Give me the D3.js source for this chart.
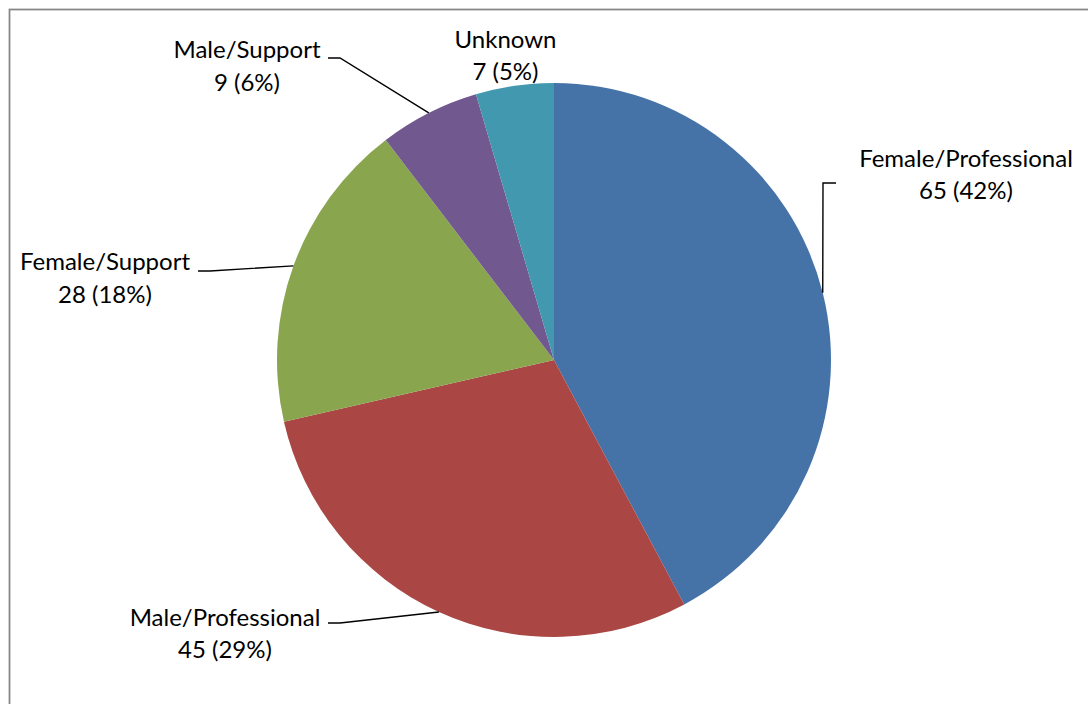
<!DOCTYPE html>
<html>
<head>
<meta charset="utf-8">
<script src="https://cdn.jsdelivr.net/npm/d3@7"></script>
<style>
  body { margin: 0; background: #fff; }
  svg { display: block; font-family: Lato, "Open Sans", sans-serif; }
</style>
</head>
<body>
<svg id="chart"></svg>
<script>
// chart data
const categories = ["Female/Professional", "Male/Professional", "Female/Support", "Male/Support", "Unknown"];
const counts = [65, 45, 28, 9, 7];
const percents = [42, 29, 18, 6, 5];
const colors = ["#4572A7", "#AA4643", "#89A54E", "#71588F", "#4198AF"];

// label layout: text centre x, first baseline y, line anchor near the text (null = no leader)
const labelLayout = [
    { x: 966, y: 166.5, anchor: [836, 183], knee: [823, 183] },
    { x: 225, y: 625.5, anchor: [328, 623], knee: [340, 623] },
    { x: 105, y: 270, anchor: [198, 271], knee: [210, 271] },
    { x: 247, y: 58, anchor: [328, 58], knee: [340, 58] },
    { x: 505.5, y: 47.5, anchor: null, knee: null },
];

const width = 1088, height = 704;
const cx = 554, cy = 360, radius = 277;

const svg = d3.select("#chart")
    .attr("width", width)
    .attr("height", height);

// chart frame (runs off the right and bottom edges)
svg.append("rect")
    .attr("x", 9.5).attr("y", 9.5)
    .attr("width", width + 20).attr("height", height + 20)
    .attr("fill", "none")
    .attr("stroke", "#868686")
    .attr("stroke-width", 1.75);

const data = categories.map((c, i) => ({ name: c, value: counts[i], pct: percents[i], color: colors[i], layout: labelLayout[i] }));

const pie = d3.pie().sort(null).value(d => d.value);
const arc = d3.arc().innerRadius(0).outerRadius(radius);
const arcs = pie(data);

const g = svg.append("g").attr("transform", `translate(${cx},${cy})`);

g.selectAll("path.slice")
    .data(arcs)
    .join("path")
    .attr("class", "slice")
    .attr("d", arc)
    .attr("fill", d => d.data.color);

// leader lines from slice midpoint on the rim to the label
const line = d3.line();
svg.selectAll("path.leader")
    .data(arcs.filter(d => d.data.layout.anchor))
    .join("path")
    .attr("class", "leader")
    .attr("fill", "none")
    .attr("stroke", "#000")
    .attr("stroke-width", 1.4)
    .attr("d", d => {
        const mid = (d.startAngle + d.endAngle) / 2;
        const p = [cx + radius * Math.sin(mid), cy - radius * Math.cos(mid)];
        return line([p, d.data.layout.knee, d.data.layout.anchor]);
    });

// labels
const labels = svg.selectAll("text.label")
    .data(arcs)
    .join("text")
    .attr("class", "label")
    .attr("text-anchor", "middle")
    .attr("font-size", 24)
    .attr("fill", "#000");

labels.append("tspan")
    .attr("x", d => d.data.layout.x)
    .attr("y", d => d.data.layout.y)
    .text(d => d.data.name);

labels.append("tspan")
    .attr("x", d => d.data.layout.x)
    .attr("y", d => d.data.layout.y + 32.5)
    .text(d => `${d.data.value} (${d.data.pct}%)`);
</script>
</body>
</html>
